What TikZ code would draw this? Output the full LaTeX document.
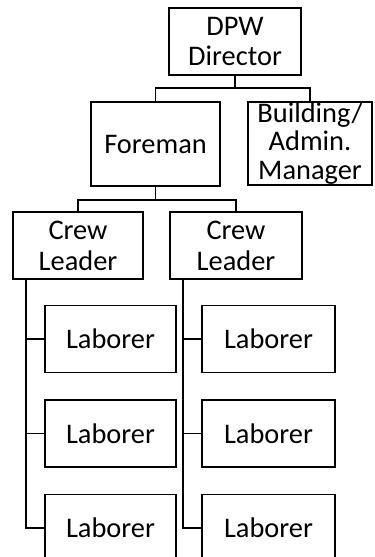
\documentclass[tikz,border=0pt]{standalone}
\usepackage{fontspec}
\setmainfont{Carlito}
\usetikzlibrary{positioning}

\begin{document}
\begin{tikzpicture}[x=1bp, y=-1bp]
		\tikzstyle{orgbox} = [rectangle, draw, line width = 1.5bp, align = center, inner sep = 0pt, minimum height = 67bp, minimum width = 131bp, font = \fontsize{28.5}{31}\selectfont];
		\tikzstyle{orgline} = [draw, line width = 1.5bp];
		\useasboundingbox (0,0) rectangle (374,557);
		\node (director) at (235,41.5) [orgbox, minimum width = 132bp] {DPW\\Director};
		\node (foreman) at (155.5,144) [orgbox, minimum width = 129bp, minimum height = 84bp] {Foreman};
		\node (building) at (310,143.5) [orgbox, minimum width = 124bp, minimum height = 83bp, font = \fontsize{28.5}{29}\selectfont] {Building/\\Admin.\\Manager};
		\node (crew1) at (78,245.5) [orgbox, minimum width = 130bp] {Crew\\Leader};
		\node (crew2) at (236,245.5) [orgbox, minimum width = 132bp] {Crew\\Leader};
		\node (lab11) at (110.5,339) [orgbox] {Laborer};
		\node (lab12) [orgbox, below=26bp of lab11] {Laborer};
		\node (lab13) [orgbox, below=26bp of lab12] {Laborer};
		\node (lab21) at (268.5,339) [orgbox, minimum width = 133bp] {Laborer};
		\node (lab22) [orgbox, minimum width = 133bp, below=26bp of lab21] {Laborer};
		\node (lab23) [orgbox, minimum width = 133bp, below=26bp of lab22] {Laborer};
		\coordinate (bus1) at (235,88);
		\coordinate (bus2) at (155.5,200);
		\coordinate (spine1) at (26,279);
		\coordinate (spine2) at (183,279);
		\path [orgline] (director) -- (bus1) -| (foreman);
		\path [orgline] (bus1) -| (building);
		\path [orgline] (foreman) -- (bus2) -| (crew1);
		\path [orgline] (bus2) -| (crew2);
		\path [orgline] (spine1) |- (lab13.west);
		\path [orgline] (spine1 |- lab11) -- (lab11.west);
		\path [orgline] (spine1 |- lab12) -- (lab12.west);
		\path [orgline] (spine2) |- (lab23.west);
		\path [orgline] (spine2 |- lab21) -- (lab21.west);
		\path [orgline] (spine2 |- lab22) -- (lab22.west);
	\end{tikzpicture}
\end{document}
